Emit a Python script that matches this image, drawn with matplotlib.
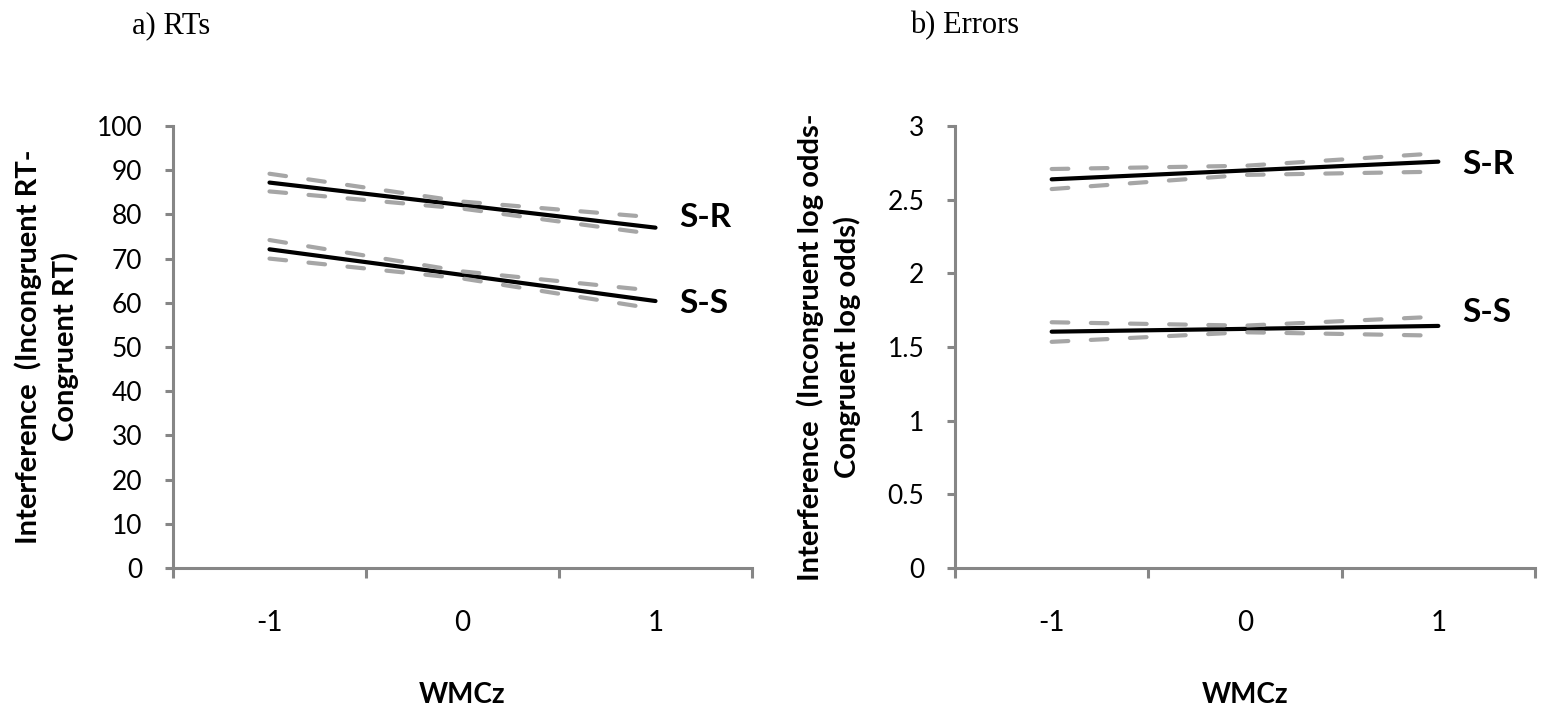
import matplotlib
matplotlib.use("Agg")
import matplotlib.pyplot as plt

# data (WMCz categories -1, 0, 1)
wmc = [-1, 0, 1]
wmc_labels = ["-1", "0", "1"]

rt_sr = [87.2, 82.1, 77.0]
rt_sr_upper = [89.2, 82.9, 79.3]
rt_sr_lower = [85.2, 81.3, 75.5]
rt_ss = [72.1, 66.3, 60.4]
rt_ss_upper = [74.2, 67.1, 62.7]
rt_ss_lower = [70.0, 65.5, 58.6]

err_sr = [2.638, 2.698, 2.758]
err_sr_upper = [2.708, 2.730, 2.815]
err_sr_lower = [2.572, 2.668, 2.690]
err_ss = [1.604, 1.623, 1.643]
err_ss_upper = [1.668, 1.645, 1.706]
err_ss_lower = [1.535, 1.600, 1.577]

rt_yticks = list(range(0, 101, 10))
err_yticks = [0, 0.5, 1, 1.5, 2, 2.5, 3]
err_yticklabels = ["0", "0.5", "1", "1.5", "2", "2.5", "3"]

axis_gray = "#868686"
band_gray = "#a6a6a6"
sans = "Lato"
serif = "Liberation Serif"

fig = plt.figure(figsize=(15.43, 7.15), dpi=100)
W, H = 1543, 715


def make_axes(x0, x1, y_top, y_bot):
    return fig.add_axes([x0 / W, 1 - y_bot / H, (x1 - x0) / W, (y_bot - y_top) / H])


def style_axes(ax, yticks, yticklabels, ymax):
    ax.set_xlim(-1.5, 1.5)
    ax.set_ylim(0, ymax)
    for side in ["top", "right"]:
        ax.spines[side].set_visible(False)
    for side in ["left", "bottom"]:
        ax.spines[side].set_color(axis_gray)
        ax.spines[side].set_linewidth(2.2)
    # category boundaries get the tick marks, centres get the labels
    ax.set_xticks([-1.5, -0.5, 0.5, 1.5])
    ax.set_xticklabels([])
    ax.set_xticks(wmc, minor=True)
    ax.set_xticklabels(wmc_labels, minor=True, fontsize=20, family=sans)
    ax.tick_params(axis="x", which="major", direction="out", length=7,
                   width=2.2, color=axis_gray)
    ax.tick_params(axis="x", which="minor", length=0, pad=30)
    ax.set_yticks(yticks)
    ax.set_yticklabels(yticklabels, fontsize=19, family=sans)
    ax.tick_params(axis="y", direction="out", length=6, width=2.2,
                   color=axis_gray, pad=16)


def draw_series(ax, mean, upper, lower):
    ax.plot(wmc, mean, color="black", lw=3.0, solid_capstyle="round", zorder=3)
    for band in (upper, lower):
        ax.plot(wmc, band, color=band_gray, lw=3.0,
                linestyle=(0, (4.0, 5.4)), dash_capstyle="round", zorder=4)


def label_line(ax, text, y, dy):
    ax.annotate(text, xy=(1, y), xytext=(17, dy), textcoords="offset points",
                fontsize=24, fontweight="bold", family=sans,
                ha="left", va="center", annotation_clip=False)


# a) RTs
ax1 = make_axes(173, 752, 126, 568)
draw_series(ax1, rt_sr, rt_sr_upper, rt_sr_lower)
draw_series(ax1, rt_ss, rt_ss_upper, rt_ss_lower)
style_axes(ax1, rt_yticks, [str(v) for v in rt_yticks], 100)
label_line(ax1, "S-R", rt_sr[-1], 7)
label_line(ax1, "S-S", rt_ss[-1], -2)

# b) Errors
ax2 = make_axes(955, 1535, 126, 568)
draw_series(ax2, err_sr, err_sr_upper, err_sr_lower)
draw_series(ax2, err_ss, err_ss_upper, err_ss_lower)
style_axes(ax2, err_yticks, err_yticklabels, 3)
label_line(ax2, "S-R", err_sr[-1], -2)
label_line(ax2, "S-S", err_ss[-1], 10)

# panel titles
fig.text(132 / W, 1 - 26 / H, "a) RTs", fontsize=22, family=serif,
         ha="left", va="center")
fig.text(910 / W, 1 - 26 / H, "b) Errors", fontsize=22, family=serif,
         ha="left", va="center")

# axis titles
ylab_kw = dict(rotation=90, fontsize=21, fontweight="bold", family=sans,
               ha="center", va="center", multialignment="center",
               linespacing=1.4)
fig.text(47 / W, 1 - 347 / H, "Interference  (Incongruent RT-\nCongruent RT)",
         **ylab_kw)
fig.text(829 / W, 1 - 347 / H,
         "Interference  (Incongruent log odds-\nCongruent log odds)", **ylab_kw)
fig.text(462 / W, 1 - 695 / H, "WMCz", fontsize=20, fontweight="bold",
         family=sans, ha="center", va="center")
fig.text(1245 / W, 1 - 695 / H, "WMCz", fontsize=20, fontweight="bold",
         family=sans, ha="center", va="center")

fig.savefig("out.png", dpi=100)
